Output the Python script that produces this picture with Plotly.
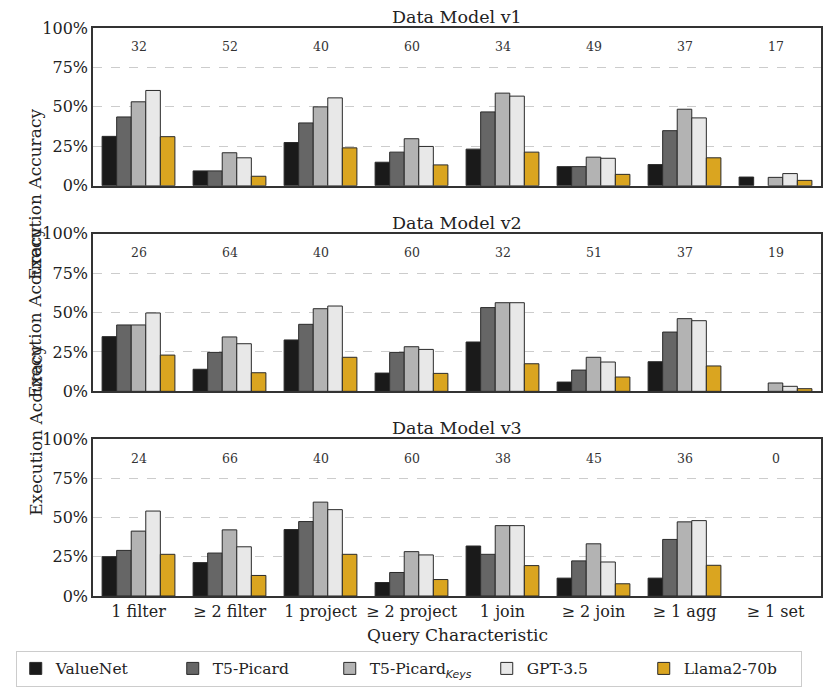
import plotly.graph_objects as go

categories = ["1 filter", "≥ 2 filter", "1 project", "≥ 2 project", "1 join", "≥ 2 join", "≥ 1 agg", "≥ 1 set"]
models = ["ValueNet", "T5-Picard", "T5-Picard<sub><span style='font-family:DejaVu Sans'><i>Keys</i></span></sub>", "GPT-3.5", "Llama2-70b"]
colors = ["#1a1a1a", "#666666", "#b3b3b3", "#e8e8e8", "#daa520"]
panel_titles = ["Data Model v1", "Data Model v2", "Data Model v3"]

# counts per category
counts_v1 = [32, 52, 40, 60, 34, 49, 37, 17]
counts_v2 = [26, 64, 40, 60, 32, 51, 37, 19]
counts_v3 = [24, 66, 40, 60, 38, 45, 36, 0]

# Data Model v1 accuracy (%)
v1_valuenet = [31.3, 9.4, 27.4, 14.9, 23.2, 12.1, 13.4, 5.5]
v1_t5 = [43.6, 9.4, 39.8, 21.3, 46.8, 12.1, 34.9, 0.0]
v1_t5keys = [53.2, 20.9, 50.0, 29.8, 58.7, 18.1, 48.5, 5.3]
v1_gpt = [60.4, 17.7, 55.7, 24.9, 56.8, 17.4, 43.0, 7.7]
v1_llama = [31.1, 6.0, 24.0, 13.2, 21.3, 7.2, 17.7, 3.4]

# Data Model v2 accuracy (%)
v2_valuenet = [34.7, 14.0, 32.6, 11.6, 31.3, 5.9, 18.8, 0.0]
v2_t5 = [42.1, 24.7, 42.5, 24.7, 53.1, 13.5, 37.6, 0.0]
v2_t5keys = [42.1, 34.5, 52.4, 28.3, 56.2, 21.6, 46.1, 5.3]
v2_gpt = [49.7, 30.2, 54.1, 26.6, 56.2, 18.6, 44.8, 3.2]
v2_llama = [23.0, 11.8, 21.6, 11.4, 17.5, 9.1, 16.1, 1.7]

# Data Model v3 accuracy (%)
v3_valuenet = [25.1, 21.3, 42.4, 8.6, 31.9, 11.4, 11.4, 0.0]
v3_t5 = [29.1, 27.4, 47.5, 15.0, 26.6, 22.4, 36.1, 0.0]
v3_t5keys = [41.4, 42.2, 59.9, 28.3, 44.9, 33.3, 47.3, 0.0]
v3_gpt = [54.2, 31.4, 55.1, 26.2, 44.9, 21.7, 48.1, 0.0]
v3_llama = [26.6, 13.1, 26.6, 10.5, 19.4, 7.8, 19.6, 0.0]

panels = [
    [v1_valuenet, v1_t5, v1_t5keys, v1_gpt, v1_llama],
    [v2_valuenet, v2_t5, v2_t5keys, v2_gpt, v2_llama],
    [v3_valuenet, v3_t5, v3_t5keys, v3_gpt, v3_llama],
]
counts = [counts_v1, counts_v2, counts_v3]

FONT = "DejaVu Serif, serif"
OFF = 8  # page body margin offset of the rendered figure
W, H = 831 - OFF, 695 - OFF
ML, MR, MT, MB = 88 - OFF, 8, 28 - OFF, 98
PH = H - MT - MB
PW = W - ML - MR

def py(pixel_y):
    return (H - MB - (pixel_y - OFF)) / PH

def px(pixel_x):
    return ((pixel_x - OFF) - ML) / PW

domains = [[py(186), 1.0], [py(392), py(234)], [0.0, py(440)]]

fig = go.Figure()
annotations = []
for p, series in enumerate(panels):
    axn = "" if p == 0 else str(p + 1)
    for m, vals in enumerate(series):
        fig.add_trace(go.Bar(
            x=categories, y=vals, name=models[m],
            marker=dict(color=colors[m],
                        line=dict(color="#2a2a2a", width=[1 if v > 0 else 0 for v in vals])),
            xaxis="x" + axn, yaxis="y" + axn,
            showlegend=(p == 0), legendgroup=models[m],
        ))
    for i, c in enumerate(counts[p]):
        annotations.append(dict(x=categories[i], y=88, xref="x" + axn, yref="y" + axn,
                                text=str(c), showarrow=False,
                                font=dict(size=12.5, color="#333333", family=FONT)))
    annotations.append(dict(x=0.5, y=domains[p][1], xref="paper", yref="paper",
                            yanchor="bottom", yshift=-1, text=panel_titles[p], showarrow=False,
                            font=dict(size=17.5, color="#222222", family=FONT)))
    annotations.append(dict(x=px(18), y=(domains[p][0] + domains[p][1]) / 2,
                            xref="paper", yref="paper", textangle=-90,
                            text="Execution Accuracy", showarrow=False,
                            font=dict(size=17, color="#222222", family=FONT)))

annotations.append(dict(x=0.5, y=py(636), xref="paper", yref="paper", yanchor="middle",
                        text="Query Characteristic", showarrow=False,
                        font=dict(size=17, color="#222222", family=FONT)))

layout = dict(
    width=W, height=H,
    margin=dict(l=ML, r=MR, t=MT, b=MB),
    plot_bgcolor="white", paper_bgcolor="white",
    font=dict(family=FONT, color="#222222"),
    barmode="group", bargap=0.2, bargroupgap=0.0,
    annotations=annotations,
    legend=dict(orientation="h", x=px(10), xanchor="left", y=py(688), yanchor="bottom",
                bordercolor="#cccccc", borderwidth=1, entrywidth=112,
                font=dict(size=15.5, family=FONT, color="#222222")),
)
for p in range(3):
    axn = "" if p == 0 else str(p + 1)
    layout["xaxis" + axn] = dict(
        domain=[0, 1], anchor="y" + axn, range=[-0.5, 7.5], type="category",
        showline=True, mirror=True, linecolor="#333333", linewidth=1.5,
        showgrid=False, showticklabels=(p == 2), ticks="",
        tickfont=dict(size=16, family=FONT, color="#222222"),
        matches="x" if p > 0 else None,
    )
    layout["yaxis" + axn] = dict(
        domain=domains[p], anchor="x" + axn, range=[0, 100],
        tickvals=[0, 25, 50, 75, 100], ticktext=["0%", "25%", "50%", "75%", "100%"],
        showline=True, mirror=True, linecolor="#333333", linewidth=1.5,
        showgrid=True, gridcolor="#cccccc", griddash="dash", gridwidth=1,
        zeroline=False, ticks="",
        tickfont=dict(size=16, family=FONT, color="#222222"),
    )
fig.update_layout(**layout)
fig.write_html("out.html")
